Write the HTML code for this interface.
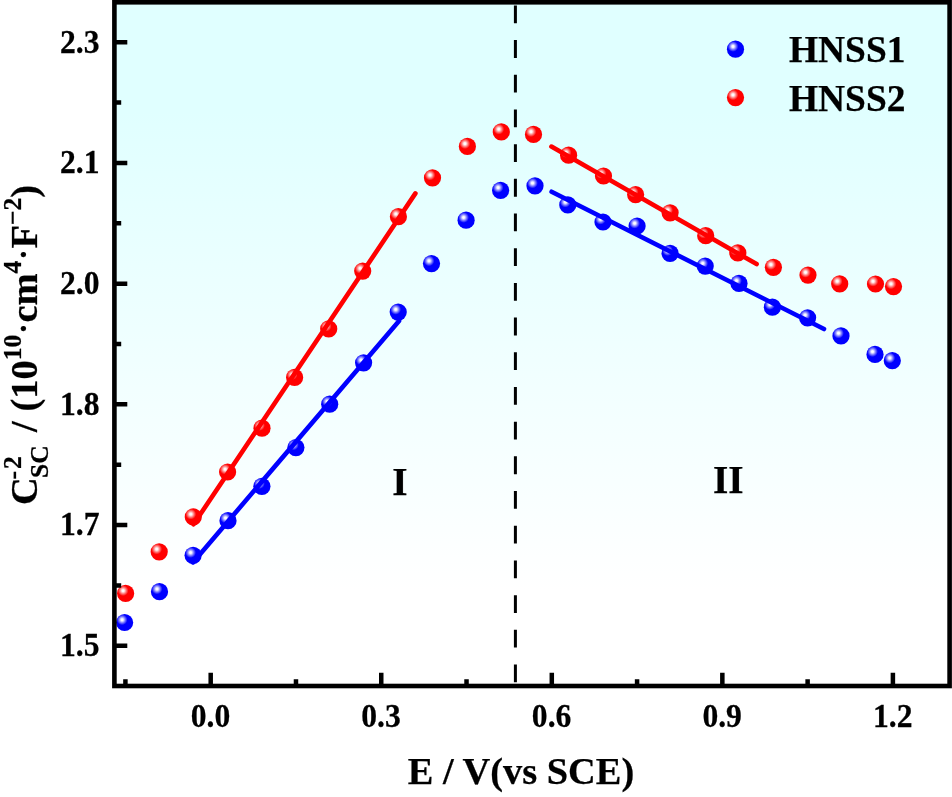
<!DOCTYPE html>
<html><head><meta charset="utf-8"><title>Mott-Schottky</title>
<style>html,body{margin:0;padding:0;background:#fff;}body{width:952px;height:797px;overflow:hidden;}svg{display:block;will-change:transform;}text{font-family:"Liberation Serif",serif;font-weight:bold;fill:#000;stroke:#000;stroke-width:0.25px;}</style></head><body>
<svg width="952" height="797" viewBox="0 0 952 797">
<defs>
<linearGradient id="bg" x1="0" y1="0" x2="0" y2="1"><stop offset="0" stop-color="#e0ffff"/><stop offset="0.16" stop-color="#e0ffff"/><stop offset="0.86" stop-color="#ffffff"/><stop offset="1" stop-color="#ffffff"/></linearGradient>
<radialGradient id="gr" cx="0.355" cy="0.34" r="0.31" fx="0.355" fy="0.34"><stop offset="0" stop-color="#ffffff"/><stop offset="0.2" stop-color="#fff6f6"/><stop offset="0.62" stop-color="#ff7070"/><stop offset="1" stop-color="#ff0000"/></radialGradient>
<radialGradient id="gb" cx="0.355" cy="0.34" r="0.31" fx="0.355" fy="0.34"><stop offset="0" stop-color="#ffffff"/><stop offset="0.2" stop-color="#f6f6ff"/><stop offset="0.62" stop-color="#7070ff"/><stop offset="1" stop-color="#0000ff"/></radialGradient>
</defs>
<rect x="0" y="0" width="952" height="797" fill="#fff"/>
<rect x="114.40" y="2.30" width="835.20" height="683.70" fill="url(#bg)"/>
<line x1="515.4" y1="5.4" x2="515.4" y2="684" stroke="#000" stroke-width="3" stroke-dasharray="17.8 16.89"/>
<circle cx="124.6" cy="622.5" r="8.6" fill="url(#gb)"/>
<circle cx="159.5" cy="591.7" r="8.6" fill="url(#gb)"/>
<circle cx="193.1" cy="555.3" r="8.6" fill="url(#gb)"/>
<circle cx="228.0" cy="520.7" r="8.6" fill="url(#gb)"/>
<circle cx="261.9" cy="486.3" r="8.6" fill="url(#gb)"/>
<circle cx="295.9" cy="447.6" r="8.6" fill="url(#gb)"/>
<circle cx="329.7" cy="404.2" r="8.6" fill="url(#gb)"/>
<circle cx="363.6" cy="362.8" r="8.6" fill="url(#gb)"/>
<circle cx="398.2" cy="312.1" r="8.6" fill="url(#gb)"/>
<circle cx="431.5" cy="263.6" r="8.6" fill="url(#gb)"/>
<circle cx="466.1" cy="220.2" r="8.6" fill="url(#gb)"/>
<circle cx="500.6" cy="190.3" r="8.6" fill="url(#gb)"/>
<circle cx="535.0" cy="185.8" r="8.6" fill="url(#gb)"/>
<circle cx="567.8" cy="204.9" r="8.6" fill="url(#gb)"/>
<circle cx="603.0" cy="222.0" r="8.6" fill="url(#gb)"/>
<circle cx="637.1" cy="226.0" r="8.6" fill="url(#gb)"/>
<circle cx="670.1" cy="253.3" r="8.6" fill="url(#gb)"/>
<circle cx="705.2" cy="266.1" r="8.6" fill="url(#gb)"/>
<circle cx="739.0" cy="283.4" r="8.6" fill="url(#gb)"/>
<circle cx="772.4" cy="307.2" r="8.6" fill="url(#gb)"/>
<circle cx="807.6" cy="317.8" r="8.6" fill="url(#gb)"/>
<circle cx="841.0" cy="335.9" r="8.6" fill="url(#gb)"/>
<circle cx="875.0" cy="354.4" r="8.6" fill="url(#gb)"/>
<circle cx="892.3" cy="360.7" r="8.6" fill="url(#gb)"/>
<circle cx="125.6" cy="593.4" r="8.6" fill="url(#gr)"/>
<circle cx="159.2" cy="551.8" r="8.6" fill="url(#gr)"/>
<circle cx="193.3" cy="516.9" r="8.6" fill="url(#gr)"/>
<circle cx="227.6" cy="472.0" r="8.6" fill="url(#gr)"/>
<circle cx="262.0" cy="428.2" r="8.6" fill="url(#gr)"/>
<circle cx="294.6" cy="377.4" r="8.6" fill="url(#gr)"/>
<circle cx="328.7" cy="328.9" r="8.6" fill="url(#gr)"/>
<circle cx="362.7" cy="271.1" r="8.6" fill="url(#gr)"/>
<circle cx="398.4" cy="216.7" r="8.6" fill="url(#gr)"/>
<circle cx="432.5" cy="177.8" r="8.6" fill="url(#gr)"/>
<circle cx="467.4" cy="146.4" r="8.6" fill="url(#gr)"/>
<circle cx="501.3" cy="131.9" r="8.6" fill="url(#gr)"/>
<circle cx="533.5" cy="134.4" r="8.6" fill="url(#gr)"/>
<circle cx="568.6" cy="155.2" r="8.6" fill="url(#gr)"/>
<circle cx="603.5" cy="176.0" r="8.6" fill="url(#gr)"/>
<circle cx="635.6" cy="194.6" r="8.6" fill="url(#gr)"/>
<circle cx="670.1" cy="212.8" r="8.6" fill="url(#gr)"/>
<circle cx="705.7" cy="235.7" r="8.6" fill="url(#gr)"/>
<circle cx="737.8" cy="252.8" r="8.6" fill="url(#gr)"/>
<circle cx="773.4" cy="267.3" r="8.6" fill="url(#gr)"/>
<circle cx="808.0" cy="275.1" r="8.6" fill="url(#gr)"/>
<circle cx="839.7" cy="283.9" r="8.6" fill="url(#gr)"/>
<circle cx="875.5" cy="284.0" r="8.6" fill="url(#gr)"/>
<circle cx="893.5" cy="286.6" r="8.6" fill="url(#gr)"/>
<line x1="193.6" y1="524.3" x2="415.4" y2="193.4" stroke="#ff0000" stroke-width="4.6" stroke-linecap="round"/>
<line x1="193.0" y1="562.4" x2="399.0" y2="321.0" stroke="#0000ff" stroke-width="4.6" stroke-linecap="round"/>
<line x1="551.4" y1="146.6" x2="756.6" y2="264.1" stroke="#ff0000" stroke-width="4.6" stroke-linecap="round"/>
<line x1="551.6" y1="191.7" x2="824.0" y2="329.0" stroke="#0000ff" stroke-width="4.6" stroke-linecap="round"/>
<circle cx="735.5" cy="49.2" r="8.6" fill="url(#gb)"/>
<circle cx="735.5" cy="97.6" r="8.6" fill="url(#gr)"/>
<text x="789" y="61.6" font-size="37.4">HNSS1</text>
<text x="789" y="110.7" font-size="37.4">HNSS2</text>
<text x="400" y="495.0" font-size="39.3" text-anchor="middle">I</text>
<text x="728.2" y="493.1" font-size="39.3" text-anchor="middle">II</text>
<path d="M210.70 686.00 V672.80 M381.25 686.00 V672.80 M551.80 686.00 V672.80 M722.35 686.00 V672.80 M892.90 686.00 V672.80 M125.42 686.00 V679.30 M295.98 686.00 V679.30 M466.52 686.00 V679.30 M637.08 686.00 V679.30 M807.62 686.00 V679.30 M114.40 42.20 H127.30 M114.40 162.92 H127.30 M114.40 283.64 H127.30 M114.40 404.36 H127.30 M114.40 525.08 H127.30 M114.40 645.80 H127.30 M114.40 102.56 H121.20 M114.40 223.28 H121.20 M114.40 344.00 H121.20 M114.40 464.72 H121.20 M114.40 585.44 H121.20" stroke="#000" stroke-width="4.5" fill="none"/>
<rect x="114.40" y="2.30" width="835.20" height="683.70" fill="none" stroke="#000" stroke-width="4.60"/>
<text transform="translate(210.50,726.6) scale(1,1.095)" font-size="31.6" text-anchor="middle">0.0</text>
<text transform="translate(381.05,726.6) scale(1,1.095)" font-size="31.6" text-anchor="middle">0.3</text>
<text transform="translate(551.60,726.6) scale(1,1.095)" font-size="31.6" text-anchor="middle">0.6</text>
<text transform="translate(722.15,726.6) scale(1,1.095)" font-size="31.6" text-anchor="middle">0.9</text>
<text transform="translate(892.70,726.6) scale(1,1.095)" font-size="31.6" text-anchor="middle">1.2</text>
<text transform="translate(99.5,52.60) scale(1,1.095)" font-size="31.6" text-anchor="end">2.3</text>
<text transform="translate(99.5,173.32) scale(1,1.095)" font-size="31.6" text-anchor="end">2.1</text>
<text transform="translate(99.5,294.04) scale(1,1.095)" font-size="31.6" text-anchor="end">2.0</text>
<text transform="translate(99.5,414.76) scale(1,1.095)" font-size="31.6" text-anchor="end">1.8</text>
<text transform="translate(99.5,535.48) scale(1,1.095)" font-size="31.6" text-anchor="end">1.7</text>
<text transform="translate(99.5,656.20) scale(1,1.095)" font-size="31.6" text-anchor="end">1.5</text>
<text x="521" y="784.2" font-size="38.4" text-anchor="middle">E / V(vs SCE)</text>
<g transform="translate(37.2,505) rotate(-90)">
<text x="0" y="0" font-size="38.5">C</text>
<text x="25.6" y="-16.2" font-size="25.5" letter-spacing="2">-2</text>
<text x="27" y="10.4" font-size="25.5">SC</text>
<text x="63.5" y="0" font-size="38.5" xml:space="preserve"> / (10<tspan font-size="25.5" dy="-16.4">10</tspan><tspan font-size="31" dy="13.4" dx="0.9">·</tspan><tspan dy="3" dx="0.9">cm</tspan><tspan font-size="25.5" dy="-16.4">4</tspan><tspan font-size="31" dy="13.4" dx="0.9">·</tspan><tspan dy="3" dx="0.9">F</tspan><tspan font-size="25.5" dy="-16.4">−2</tspan><tspan dy="16.4">)</tspan></text>
</g>
</svg></body></html>
